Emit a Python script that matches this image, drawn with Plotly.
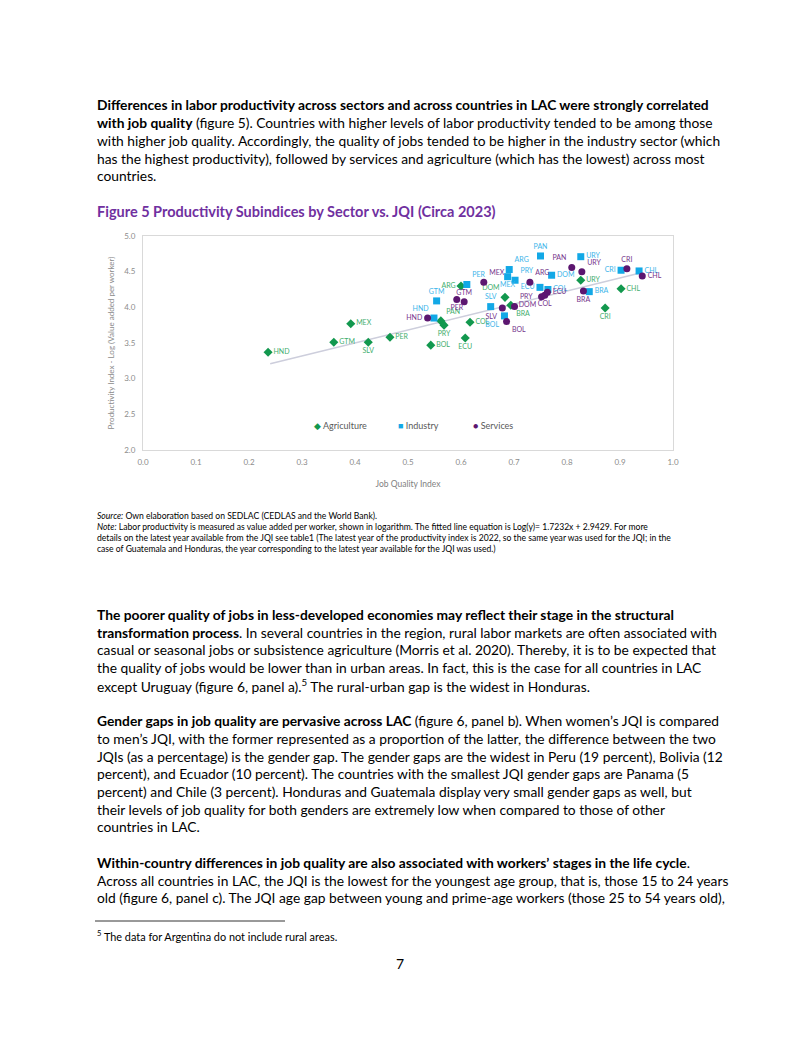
import plotly.graph_objects as go

# page is shown with an 8px body margin, so the figure is laid out in page pixels minus 8
OFF = 8
W, H = 802 - OFF, 1037 - OFF

# ---- data ----
agri_countries = ['HND', 'MEX', 'GTM', 'SLV', 'PER', 'BOL', 'PAN', 'PRY', 'COL', 'ECU',
                  'ARG', 'DOM', 'BRA', 'URY', 'CHL', 'CRI']
agri_jqi = [0.236, 0.392, 0.360, 0.425, 0.466, 0.543, 0.562, 0.568, 0.617, 0.608,
            0.600, 0.683, 0.694, 0.826, 0.902, 0.872]
agri_prod = [3.37, 3.77, 3.51, 3.51, 3.58, 3.47, 3.81, 3.75, 3.79, 3.57,
             4.30, 4.14, 4.03, 4.38, 4.26, 3.99]

ind_countries = ['HND', 'GTM', 'PAN', 'PER', 'ARG', 'MEX', 'PRY', 'SLV', 'BOL', 'ECU',
                 'COL', 'DOM', 'URY', 'BRA', 'CRI', 'CHL']
ind_jqi = [0.549, 0.554, 0.750, 0.611, 0.691, 0.688, 0.702, 0.656, 0.682, 0.749,
           0.764, 0.771, 0.826, 0.842, 0.902, 0.936]
ind_prod = [3.85, 4.09, 4.72, 4.32, 4.53, 4.43, 4.38, 4.01, 3.88, 4.28,
            4.25, 4.45, 4.71, 4.22, 4.52, 4.51]

serv_countries = ['HND', 'PER', 'GTM', 'MEX', 'SLV', 'BOL', 'PRY', 'ARG', 'DOM', 'ECU',
                  'COL', 'PAN', 'URY', 'BRA', 'CRI', 'CHL']
serv_jqi = [0.537, 0.592, 0.606, 0.643, 0.678, 0.686, 0.701, 0.730, 0.752, 0.763,
            0.758, 0.809, 0.828, 0.831, 0.913, 0.942]
serv_prod = [3.85, 4.11, 4.08, 4.35, 3.99, 3.80, 4.01, 4.35, 4.15, 4.21,
             4.17, 4.56, 4.50, 4.23, 4.54, 4.44]

# fitted line as drawn in the chart (end points)
trend_jqi = [0.24, 0.938]
trend_prod = [3.21, 4.48]

x_ticks = [0.0, 0.1, 0.2, 0.3, 0.4, 0.5, 0.6, 0.7, 0.8, 0.9, 1.0]
y_ticks = [2.0, 2.5, 3.0, 3.5, 4.0, 4.5, 5.0]

# ---- label placement (style) ----
agri_pos = {'HND': 'middle right', 'MEX': 'middle right', 'GTM': 'middle right',
            'SLV': 'bottom center', 'PER': 'middle right', 'BOL': 'middle right',
            'PAN': 'top right', 'PRY': 'bottom center', 'COL': 'middle right',
            'ECU': 'bottom center', 'ARG': 'middle left', 'DOM': 'top left',
            'BRA': 'bottom right', 'URY': 'middle right', 'CHL': 'middle right',
            'CRI': 'bottom center'}
ind_pos = {'HND': 'top left', 'GTM': 'top center', 'PAN': 'top center', 'PER': 'top right',
           'ARG': 'top right', 'MEX': 'bottom center', 'PRY': 'top right',
           'SLV': 'top center', 'BOL': 'bottom left', 'ECU': 'middle left',
           'COL': 'middle right', 'DOM': 'middle right', 'URY': 'middle right',
           'BRA': 'middle right', 'CRI': 'middle left', 'CHL': 'middle right'}
serv_pos = {'HND': 'middle left', 'PER': 'bottom center', 'GTM': 'top center',
            'MEX': 'top right', 'SLV': 'bottom left', 'BOL': 'bottom right',
            'PRY': 'top right', 'ARG': 'top right', 'DOM': 'bottom left',
            'ECU': 'middle right', 'COL': 'bottom center', 'PAN': 'top left',
            'URY': 'top right', 'BRA': 'bottom center', 'CRI': 'top center',
            'CHL': 'middle right'}

GREEN, GREEN_T = '#12984E', '#3FAE6E'
BLUE, BLUE_T = '#12A8E6', '#3DB5EA'
PURPLE, PURPLE_T = '#5C1670', '#76348C'
FONT = 'Lato'


def px_x(px):
    return (px - OFF) / W


def px_y(py):
    return 1 - (py - OFF) / H


fig = go.Figure()

fig.add_trace(go.Scatter(
    x=trend_jqi, y=trend_prod, mode='lines',
    line=dict(color='#CDCEDC', width=1.6), showlegend=False, hoverinfo='skip'))

series = [
    ('Agriculture', agri_jqi, agri_prod, agri_countries, agri_pos, GREEN, GREEN_T, 'diamond', 7),
    ('Industry', ind_jqi, ind_prod, ind_countries, ind_pos, BLUE, BLUE_T, 'square', 7),
    ('Services', serv_jqi, serv_prod, serv_countries, serv_pos, PURPLE, PURPLE_T, 'circle', 7),
]
for name, xs, ys, labels, pos, col, tcol, sym, size in series:
    fig.add_trace(go.Scatter(
        x=xs, y=ys, mode='markers+text', name=name, showlegend=False,
        text=labels, textposition=[pos[c] for c in labels],
        textfont=dict(family=FONT, size=7, color=tcol),
        marker=dict(symbol=sym, size=size, color=col),
    ))

fig.update_xaxes(
    domain=[px_x(143), px_x(673)], range=[0, 1], tickvals=x_ticks, automargin=False,
    tickformat='.1f', showgrid=False, zeroline=False,
    showline=True, linecolor='#D9D9D9', linewidth=1, mirror=True,
    ticks='', ticklabelstandoff=4, tickfont=dict(family=FONT, size=8, color='#8C8C8C'),
    title=dict(text='Job Quality Index', font=dict(family=FONT, size=8.5, color='#7F7F7F'),
               standoff=15),
)
fig.update_yaxes(
    domain=[px_y(450), px_y(236)], range=[2, 5], tickvals=y_ticks, automargin=False,
    tickformat='.1f', showgrid=False, zeroline=False,
    showline=True, linecolor='#D9D9D9', linewidth=1, mirror=True,
    ticks='', ticklabelstandoff=5, tickfont=dict(family=FONT, size=8, color='#8C8C8C'),
    title=dict(text='Productivity Index - Log (Value added per worker)',
               font=dict(family=FONT, size=8, color='#8C8C8C'), standoff=8),
)

fig.update_layout(
    width=W, height=H, margin=dict(l=0, r=0, t=0, b=0, autoexpand=False),
    paper_bgcolor='white', plot_bgcolor='white',
    font=dict(family=FONT), showlegend=False,
)


def line(txt, py, size=13.8, color='#000000', x=95, anchor='left'):
    fig.add_annotation(xref='paper', yref='paper', x=px_x(x), y=px_y(py), text=txt,
                       showarrow=False, xanchor=anchor, yanchor='middle',
                       font=dict(family=FONT, size=size, color=color), align='left')


# legend drawn as text
legend_items = [('◆', GREEN, 'Agriculture', 312), ('■', BLUE, 'Industry', 396),
                ('●', PURPLE, 'Services', 471)]
for sym, col, name, px_ in legend_items:
    line(f'<span style="color:{col}">{sym}</span> {name}', 426, size=9,
         color='#595959', x=px_)

# ---- page text ----
S = 17.7
para1 = [
    '<b>Differences in labor productivity across sectors and across countries in LAC were strongly correlated</b>',
    '<b>with job quality</b> (figure 5). Countries with higher levels of labor productivity tended to be among those',
    'with higher job quality. Accordingly, the quality of jobs tended to be higher in the industry sector (which',
    'has the highest productivity), followed by services and agriculture (which has the lowest) across most',
    'countries.',
]
for i, t in enumerate(para1):
    line(t, 105 + i * S)

line('<b>Figure 5 Productivity Subindices by Sector vs. JQI (Circa 2023)</b>', 211, size=14.5,
     color='#7030A0')

notes = [
    '<i>Source:</i> Own elaboration based on SEDLAC (CEDLAS and the World Bank).',
    '<i>Note:</i> Labor productivity is measured as value added per worker, shown in logarithm. The fitted line equation is Log(y)= 1.7232x + 2.9429. For more',
    'details on the latest year available from the JQI see table1 (The latest year of the productivity index is 2022, so the same year was used for the JQI; in the',
    'case of Guatemala and Honduras, the year corresponding to the latest year available for the JQI was used.)',
]
for i, t in enumerate(notes):
    line(t, 516 + i * 11, size=8.6)

para2 = [
    '<b>The poorer quality of jobs in less-developed economies may reflect their stage in the structural</b>',
    '<b>transformation process</b>. In several countries in the region, rural labor markets are often associated with',
    'casual or seasonal jobs or subsistence agriculture (Morris et al. 2020). Thereby, it is to be expected that',
    'the quality of jobs would be lower than in urban areas. In fact, this is the case for all countries in LAC',
    'except Uruguay (figure 6, panel a).<sup>5</sup> The rural-urban gap is the widest in Honduras.',
]
p2 = 614.5
for i, t in enumerate(para2):
    line(t, p2 + i * S)

para3 = [
    '<b>Gender gaps in job quality are pervasive across LAC</b> (figure 6, panel b). When women’s JQI is compared',
    'to men’s JQI, with the former represented as a proportion of the latter, the difference between the two',
    'JQIs (as a percentage) is the gender gap. The gender gaps are the widest in Peru (19 percent), Bolivia (12',
    'percent), and Ecuador (10 percent). The countries with the smallest JQI gender gaps are Panama (5',
    'percent) and Chile (3 percent). Honduras and Guatemala display very small gender gaps as well, but',
    'their levels of job quality for both genders are extremely low when compared to those of other',
    'countries in LAC.',
]
p3 = p2 + 6 * S
for i, t in enumerate(para3):
    line(t, p3 + i * S)

para4 = [
    '<b>Within-country differences in job quality are also associated with workers’ stages in the life cycle</b>.',
    'Across all countries in LAC, the JQI is the lowest for the youngest age group, that is, those 15 to 24 years',
    'old (figure 6, panel c). The JQI age gap between young and prime-age workers (those 25 to 54 years old),',
]
p4 = p3 + 8 * S
for i, t in enumerate(para4):
    line(t, p4 + i * S)

fig.add_shape(type='line', xref='paper', yref='paper', x0=px_x(95), x1=px_x(285),
              y0=px_y(921), y1=px_y(921), line=dict(color='#000000', width=0.8))
line('<sup>5</sup> The data for Argentina do not include rural areas.', 935, size=10.9)
line('7', 963, size=14, x=400, anchor='center')

fig.write_html('out.html')
